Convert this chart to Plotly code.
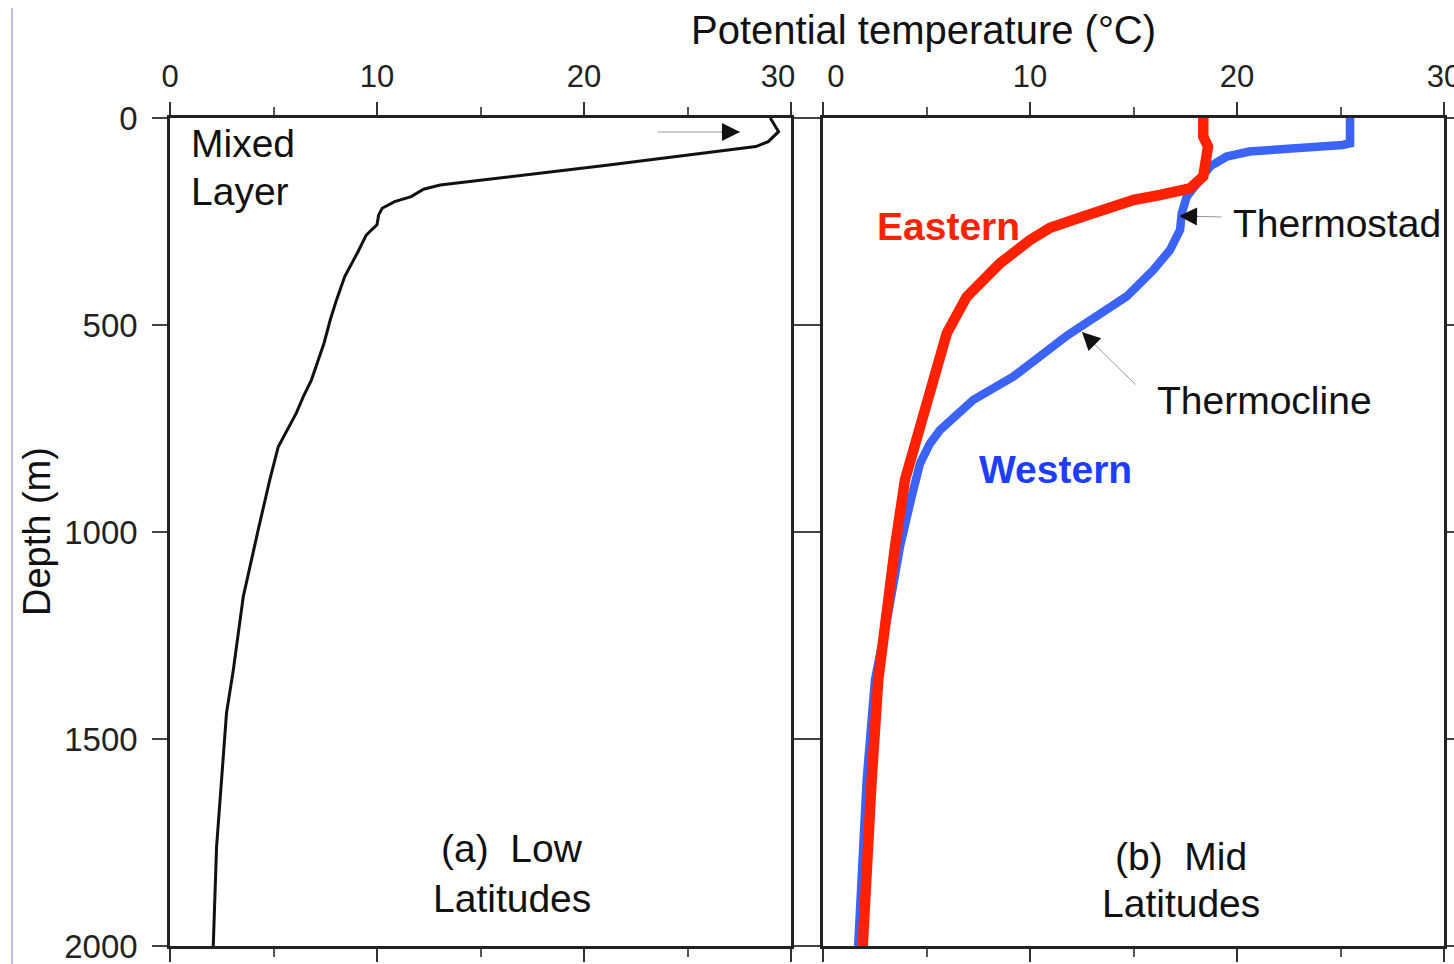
import plotly.graph_objects as go

W, H = 1454, 964

# ---- data ----
low_depth = [0, 33, 57, 69, 115, 162, 172, 190, 202, 218, 234, 258, 270, 283, 326, 383, 440, 488,
             544, 600, 633, 673, 713, 794, 874, 995, 1156, 1333, 1437, 1599, 1760, 2000]
low_temp = [29.0, 29.4, 28.9, 28.3, 21.0, 13.05, 12.25, 11.65, 10.85, 10.25, 10.08, 10.0, 9.74, 9.48,
            9.05, 8.44, 8.04, 7.74, 7.44, 7.04, 6.83, 6.44, 6.1, 5.23, 4.82, 4.26, 3.54, 3.06, 2.73,
            2.49, 2.25, 2.09]

east_depth = [0, 45, 69, 117, 141, 170, 178, 186, 198, 222, 238, 265, 295, 351, 432, 520, 633, 754,
              874, 1035, 1196, 1357, 1599, 1841, 2000]
east_temp = [18.37, 18.37, 18.6, 18.5, 18.37, 17.73, 16.6, 16.28, 15.0, 13.38, 12.57, 10.97, 10.0,
             8.55, 6.94, 5.98, 5.33, 4.6, 3.96, 3.48, 3.08, 2.67, 2.35, 2.03, 1.92]

west_depth = [0, 61, 65, 73, 81, 93, 117, 150, 190, 230, 270, 319, 367, 431, 480, 500, 525, 576, 625,
              681, 721, 754, 786, 834, 915, 1035, 1196, 1357, 1599, 1841, 2000]
west_temp = [25.46, 25.46, 25.1, 22.2, 20.6, 19.5, 18.7, 18.2, 17.57, 17.33, 17.25, 16.76, 15.96,
             14.67, 13.2, 12.45, 11.8, 10.48, 9.19, 7.26, 6.3, 5.65, 5.17, 4.69, 4.28, 3.72, 3.15,
             2.51, 2.11, 1.87, 1.7]

temp_ticks = [0, 10, 20, 30]
left_temp_labels = ["0", "10", "20", "30\u00a0\u00a0\u00a0"]
right_temp_labels = ["\u00a0\u00a0\u00a00", "10", "20", "30"]
depth_ticks = [0, 500, 1000, 1500, 2000]
depth_labels = ["0", "500", "1000", "1500", "2000"]

FONT = "Liberation Sans, Arial, Helvetica, sans-serif"
RED = "#ff2200"
BLUE = "#3b63f7"


def px(x):
    return x / W


def py(y):
    return 1 - y / H


fig = go.Figure()
fig.add_trace(go.Scatter(x=low_temp, y=low_depth, mode="lines",
                         line=dict(color="#111111", width=3), xaxis="x", yaxis="y",
                         showlegend=False, hoverinfo="skip"))
fig.add_trace(go.Scatter(x=west_temp, y=west_depth, mode="lines",
                         line=dict(color=BLUE, width=8.5), xaxis="x2", yaxis="y2",
                         showlegend=False, name="Western"))
fig.add_trace(go.Scatter(x=east_temp, y=east_depth, mode="lines",
                         line=dict(color=RED, width=10.5), xaxis="x2", yaxis="y2",
                         showlegend=False, name="Eastern"))

xcommon = dict(range=[0, 30], tickvals=temp_ticks, side="top", ticks="outside", ticklen=13,
               tickwidth=2, tickcolor="#333", showline=True, linecolor="#222", linewidth=2.5,
               mirror="ticks", showgrid=False, zeroline=False,
               tickfont=dict(family=FONT, size=31, color="#222"),
               minor=dict(tick0=0, dtick=5, ticks="outside", ticklen=8, tickwidth=1.5,
                          tickcolor="#555"),
               automargin=False, ticklabelstandoff=3, ticklabeloverflow="allow",
               fixedrange=True)
ycommon = dict(range=[2000, 0], tickvals=depth_ticks, ticktext=depth_labels, ticks="outside",
               ticklen=15, tickwidth=2, tickcolor="#444", showline=True, linecolor="#222",
               linewidth=2.5, mirror="ticks", showgrid=False, zeroline=False,
               tickfont=dict(family=FONT, size=33, color="#222"),
               domain=[py(946), py(118)], automargin=False, ticklabelstandoff=8,
               ticklabeloverflow="allow", fixedrange=True)

fig.update_layout(
    width=W, height=H, template="none",
    margin=dict(l=0, r=0, t=0, b=0),
    paper_bgcolor="white", plot_bgcolor="white",
    showlegend=False,
    xaxis=dict(xcommon, domain=[px(170), px(791)], anchor="y", ticktext=left_temp_labels),
    xaxis2=dict(xcommon, domain=[px(823), px(1444)], anchor="y2", ticktext=right_temp_labels),
    yaxis=dict(ycommon, anchor="x"),
    yaxis2=dict(ycommon, anchor="x2", showticklabels=False),
)

ann = []


def text(s, x, y, size=39, color="#111", xanchor="center", bold=False, angle=0):
    ann.append(dict(text=("<b>%s</b>" % s) if bold else s, x=px(x), y=py(y), xref="paper",
                    yref="paper", showarrow=False, xanchor=xanchor, yanchor="middle",
                    textangle=angle, font=dict(family=FONT, size=size, color=color)))


def arrow(tip, tail, head_len=20):
    # thin gray shaft
    ann.append(dict(text="", x=px(tip[0]), y=py(tip[1]), xref="paper", yref="paper",
                    showarrow=True, arrowhead=0, arrowwidth=1, arrowcolor="#999",
                    ax=tail[0] - tip[0], ay=tail[1] - tip[1]))
    # black head
    dx, dy = tail[0] - tip[0], tail[1] - tip[1]
    L = (dx * dx + dy * dy) ** 0.5
    ann.append(dict(text="", x=px(tip[0]), y=py(tip[1]), xref="paper", yref="paper",
                    showarrow=True, arrowhead=2, arrowsize=3, arrowwidth=1.2,
                    arrowcolor="#111", ax=dx / L * head_len, ay=dy / L * head_len))


text("Potential temperature (°C)", 923, 30, size=40)
text("Depth (m)", 37, 532, size=38, angle=-90)
text("Mixed", 189, 143, xanchor="left")
text("Layer", 189, 192, xanchor="left")
text("(a)\u00a0 Low", 512, 848)
text("Latitudes", 512, 898)
text("(b)\u00a0 Mid", 1181, 856)
text("Latitudes", 1181, 903)
text("Eastern", 948, 226, color=RED, bold=True)
text("Western", 1055, 469, color="#1f3dff", bold=True)
text("Thermostad", 1231, 223, xanchor="left")
text("Thermocline", 1155, 400, xanchor="left")

arrow((740, 132), (656, 132))
arrow((1179, 216), (1223, 217))
arrow((1082, 332), (1137, 386))

fig.update_layout(annotations=ann)

fig.add_shape(type="line", xref="paper", yref="paper", x0=px(12), x1=px(12), y0=py(8), y1=0,
              line=dict(color="#a9a9e6", width=1.5))

fig.write_html("out.html", config={"displayModeBar": False},
               post_script="document.body.style.margin='0px';document.body.style.padding='0px';")
